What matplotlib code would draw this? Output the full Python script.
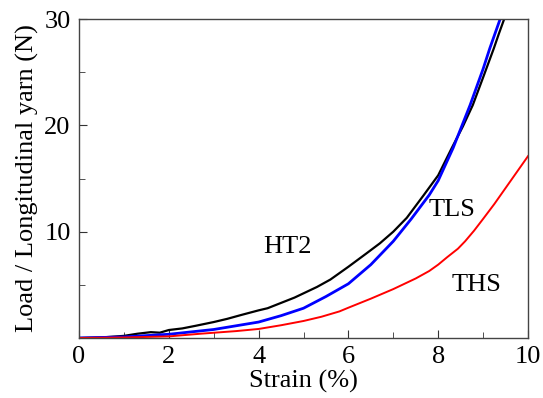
import matplotlib
matplotlib.use('Agg')
import matplotlib.pyplot as plt
from matplotlib.ticker import MultipleLocator

# values
ht2_strain = [0.0, 0.5, 1.0, 1.3, 1.6, 1.8, 2.0, 2.3, 2.6, 3.0, 3.3, 3.6, 4.0, 4.2, 4.5, 4.8, 5.0,
              5.3, 5.6, 6.0, 6.4, 6.7, 7.0, 7.3, 7.68, 8.0, 8.3, 8.55, 8.77, 9.0, 9.24, 9.35, 9.47]
ht2_load = [0.0, 0.05, 0.2, 0.4, 0.55, 0.5, 0.75, 0.9, 1.15, 1.5, 1.8, 2.15, 2.6, 2.8, 3.3, 3.8, 4.2,
            4.8, 5.5, 6.7, 7.95, 8.9, 10.0, 11.3, 13.45, 15.3, 17.85, 19.9, 21.9, 24.5, 27.25, 28.6, 30.0]
tls_strain = [0.0, 1.0, 2.0, 3.0, 4.0, 4.5, 5.0, 5.5, 6.0, 6.5, 7.0, 7.4, 7.8, 8.0, 8.33, 8.71, 9.0,
              9.15, 9.38]
tls_load = [0.0, 0.1, 0.35, 0.8, 1.5, 2.1, 2.8, 3.9, 5.1, 6.9, 9.1, 11.2, 13.45, 14.8, 17.85, 21.9,
            25.3, 27.25, 30.0]
ths_strain = [0.0, 1.0, 2.0, 2.7, 3.5, 4.0, 4.5, 5.0, 5.4, 5.8, 6.0, 6.5, 7.0, 7.5, 7.8, 8.0, 8.2,
              8.44, 8.6, 8.8, 9.0, 9.25, 9.5, 9.75, 10.0]
ths_load = [0.0, 0.05, 0.15, 0.4, 0.65, 0.85, 1.2, 1.6, 2.0, 2.5, 2.85, 3.7, 4.6, 5.6, 6.3, 6.9, 7.6,
            8.4, 9.1, 10.1, 11.2, 12.6, 14.1, 15.6, 17.1]

plt.rcParams['font.family'] = ['Liberation Serif', 'DejaVu Serif']
plt.rcParams['font.size'] = 19

fig = plt.figure(figsize=(5.43, 3.98), dpi=100)
ax = fig.add_axes([79 / 543, 60 / 398, 449 / 543, 319 / 398])

ax.plot(ht2_strain, ht2_load, color='black', lw=1.6)
ax.plot(tls_strain, tls_load, color='blue', lw=2.0)
ax.plot(ths_strain, ths_load, color='red', lw=1.4)

ax.text(4.65, 8.6, 'HT2', ha='center', va='center')
ax.text(8.3, 12.0, 'TLS', ha='center', va='center')
ax.text(8.85, 5.0, 'THS', ha='center', va='center')

ax.set_xlim(0, 10)
ax.set_ylim(0, 30)
ax.xaxis.set_major_locator(MultipleLocator(2))
ax.xaxis.set_minor_locator(MultipleLocator(1))
ax.yaxis.set_minor_locator(MultipleLocator(5))
ax.set_yticks([10, 20, 30])
ax.tick_params(which='both', direction='in', top=False, right=False, color='#333333')
ax.tick_params(which='major', length=6, pad=6)
ax.tick_params(which='minor', length=4)
for s in ax.spines.values():
    s.set_color('#444444')
    s.set_linewidth(1.0)

ax.set_xlabel('Strain (%)', labelpad=1)
ax.set_ylabel('Load / Longitudinal yarn (N)', labelpad=4)

fig.savefig('out.png', dpi=100)
